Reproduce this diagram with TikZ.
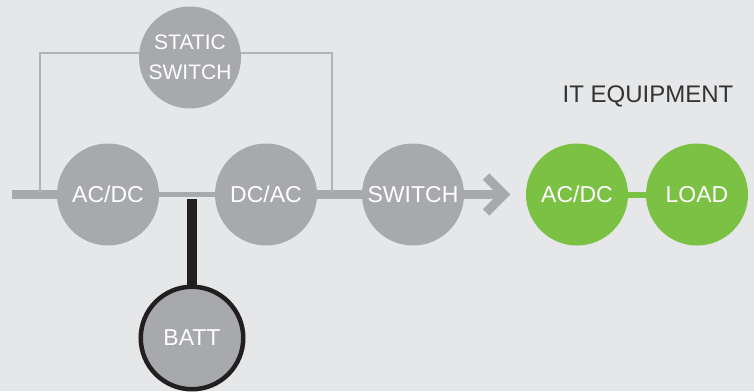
\documentclass[tikz,border=0pt]{standalone}
\usepackage{fontspec}
\setmainfont{Liberation Sans}
\definecolor{bgpanel}{HTML}{E6E7E8}
\definecolor{upsgray}{HTML}{A7A9AC}
\definecolor{thingray}{HTML}{B1B3B6}
\definecolor{itgreen}{HTML}{7BC143}
\definecolor{battblack}{HTML}{231F20}
\definecolor{labeldark}{HTML}{333333}
\tikzset{
    unit/.style={circle,fill=upsgray,text=white,minimum size=102pt,inner sep=0pt,
        font=\fontsize{23}{26}\selectfont},
    itunit/.style={unit,fill=itgreen},
    battunit/.style={unit,draw=battblack,line width=4.5pt,minimum size=102.5pt},
    mainline/.style={upsgray,line width=9pt},
    dcline/.style={upsgray,line width=5pt},
    bypass/.style={thingray,line width=2pt},
    battline/.style={battblack,line width=10pt},
}
\begin{document}
\begin{tikzpicture}[x=1pt,y=-1pt]
    \fill [bgpanel] (0,0) rectangle (754,391);
    \useasboundingbox (0,0) rectangle (754,391);
    % converters
    \node [unit] (acdc) at (108,194.5) {AC/DC};
    \node [unit] (dcac) at (266,194.5) {DC/AC};
    \node [unit] (switch) at (413,194.5) {SWITCH};
    \node [unit,align=center,font=\fontsize{21}{30}\selectfont] (static) at (190,57.5) {STATIC\\SWITCH};
    \node [battunit] (batt) at (192,338) {BATT};
    % it equipment
    \node [itunit] (itacdc) at (577,194.5) {AC/DC};
    \node [itunit] (load) at (697,194.5) {LOAD};
    \node [text=labeldark,font=\fontsize{24}{28}\selectfont] (itlabel) at (648,96) {IT EQUIPMENT};
    % connectors
    \coordinate (in) at (12,194.5);
    \coordinate (tip) at (504,194.5);
    \coordinate (bl) at (40,192);
    \coordinate (br) at (332,192);
    \coordinate (top) at (40,53);
    \coordinate (tap) at (192,199);
    \draw [mainline] (in) -- (acdc);
    \draw [dcline] (acdc) -- (dcac);
    \draw [mainline] (dcac) -- (switch);
    \draw [mainline] (switch) -- (tip);
    \draw [mainline,miter limit=4] ([shift={(-18,-18)}]tip) -- (tip) -- ([shift={(-18,18)}]tip);
    \draw [bypass] (bl) -- (top) -- (top -| static.west);
    \draw [bypass] (br) |- (top -| static.east);
    \draw [battline] (tap) -- (tap |- batt.north);
    \draw [itgreen,line width=6pt] (itacdc) -- (load);
\end{tikzpicture}
\end{document}
